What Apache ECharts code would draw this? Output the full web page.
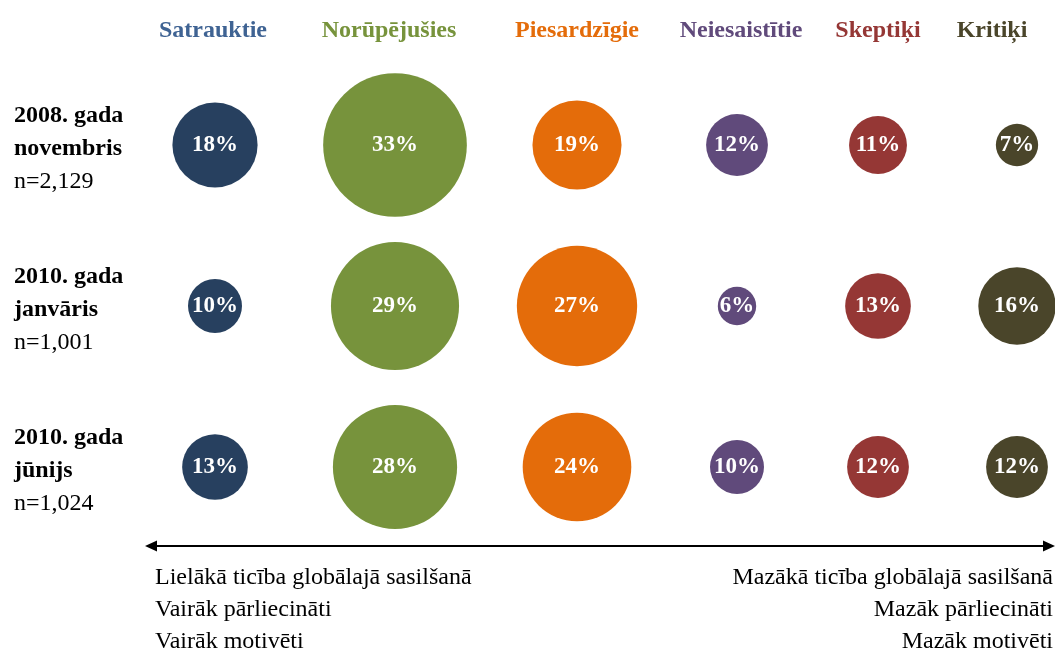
<!DOCTYPE html>
<html><head><meta charset="utf-8">
<script src="https://cdn.jsdelivr.net/npm/echarts@6/dist/echarts.min.js"></script>
<style>html,body{margin:0;padding:0;background:#fff}#c{width:1055px;height:668px}</style>
</head><body><div id="c"></div>
<script>
// ---- data ----
const categories = ['Satrauktie', 'Norūpējušies', 'Piesardzīgie', 'Neiesaistītie', 'Skeptiķi', 'Kritiķi'];
const periodYear = ['2008. gada', '2010. gada', '2010. gada'];
const periodMonth = ['novembris', 'janvāris', 'jūnijs'];
const sampleSizes = ['n=2,129', 'n=1,001', 'n=1,024'];
const satrauktie = [18, 10, 13];
const norupejusies = [33, 29, 28];
const piesardzigie = [19, 27, 24];
const neiesaistitie = [12, 6, 10];
const skeptiki = [11, 13, 12];
const kritiki = [7, 16, 12];
const leftNotes = ['Lielākā ticība globālajā sasilšanā', 'Vairāk pārliecināti', 'Vairāk motivēti'];
const rightNotes = ['Mazākā ticība globālajā sasilšanā', 'Mazāk pārliecināti', 'Mazāk motivēti'];

// ---- layout / style ----
const values = [satrauktie, norupejusies, piesardzigie, neiesaistitie, skeptiki, kritiki];
const colCenters = [215, 395, 577, 737, 878, 1017];
const colHalfWidths = [70, 70, 70, 70, 60, 38];
const headerShift = [-4, -12, 0, 8, 0, -50];
const bubbleColors = ['#27405F', '#77933C', '#E46C0A', '#604A7B', '#953735', '#4A452A'];
const headerColors = ['#3F6393', '#77933C', '#E46C0A', '#604A7B', '#953735', '#4A452A'];
const FONT = "'Liberation Serif','Times New Roman',serif";
const periodKeys = periodYear.map((y, j) => y + ' ' + periodMonth[j]);

const grids = [], xAxes = [], yAxes = [], series = [];
categories.forEach((cat, i) => {
  grids.push({ left: colCenters[i] - colHalfWidths[i], width: 2 * colHalfWidths[i], top: 64.5, height: 483 });
  const sh = headerShift[i];
  xAxes.push({
    gridIndex: i, type: 'category', data: [cat], position: 'top',
    axisLine: { show: false }, axisTick: { show: false }, splitLine: { show: false },
    axisLabel: {
      color: headerColors[i], fontFamily: FONT, fontWeight: 'bold', fontSize: 24, margin: 22,
      padding: sh < 0 ? [0, -sh, 0, 0] : [0, 0, 0, sh]
    }
  });
  yAxes.push({
    gridIndex: i, type: 'category', data: periodKeys, inverse: true,
    axisLine: { show: false }, axisTick: { show: false }, splitLine: { show: false },
    axisLabel: i === 0 ? {
      align: 'left', margin: 131, fontFamily: FONT, padding: [8, 0, 0, 0],
      formatter: (v, j) => '{b|' + periodYear[j] + '}\n{b|' + periodMonth[j] + '}\n{n|' + sampleSizes[j] + '}',
      rich: {
        b: { fontFamily: FONT, fontWeight: 'bold', fontSize: 24, lineHeight: 33, color: '#000' },
        n: { fontFamily: FONT, fontSize: 24, lineHeight: 33, color: '#000' }
      }
    } : { show: false }
  });
  series.push({
    type: 'scatter', xAxisIndex: i, yAxisIndex: i, clip: false,
    data: values[i].map((v, j) => [cat, periodKeys[j], v]),
    symbol: 'circle',
    symbolSize: d => 3.9 * d[2] + 15,
    itemStyle: { color: bubbleColors[i], opacity: 1 },
    label: {
      show: true, position: 'inside', formatter: p => p.value[2] + '%',
      color: '#fff', fontFamily: FONT, fontWeight: 'bold', fontSize: 23
    },
    emphasis: { disabled: true }
  });
});

const graphics = [
  { type: 'line', shape: { x1: 152, y1: 546, x2: 1048, y2: 546 }, style: { stroke: '#000', lineWidth: 2 } },
  { type: 'polygon', shape: { points: [[145, 546], [157, 540.5], [157, 551.5]] }, style: { fill: '#000' } },
  { type: 'polygon', shape: { points: [[1055, 546], [1043, 540.5], [1043, 551.5]] }, style: { fill: '#000' } }
];
leftNotes.forEach((t, k) => graphics.push({
  type: 'text', left: 155, top: 566 + k * 32,
  style: { text: t, font: '24px ' + FONT, fill: '#000' }
}));
rightNotes.forEach((t, k) => graphics.push({
  type: 'text', right: 2, top: 566 + k * 32,
  style: { text: t, font: '24px ' + FONT, fill: '#000' }
}));

const chart = echarts.init(document.getElementById('c'));
chart.setOption({
  backgroundColor: '#fff',
  animation: false,
  grid: grids, xAxis: xAxes, yAxis: yAxes, series: series,
  graphic: graphics
});
</script></body></html>
